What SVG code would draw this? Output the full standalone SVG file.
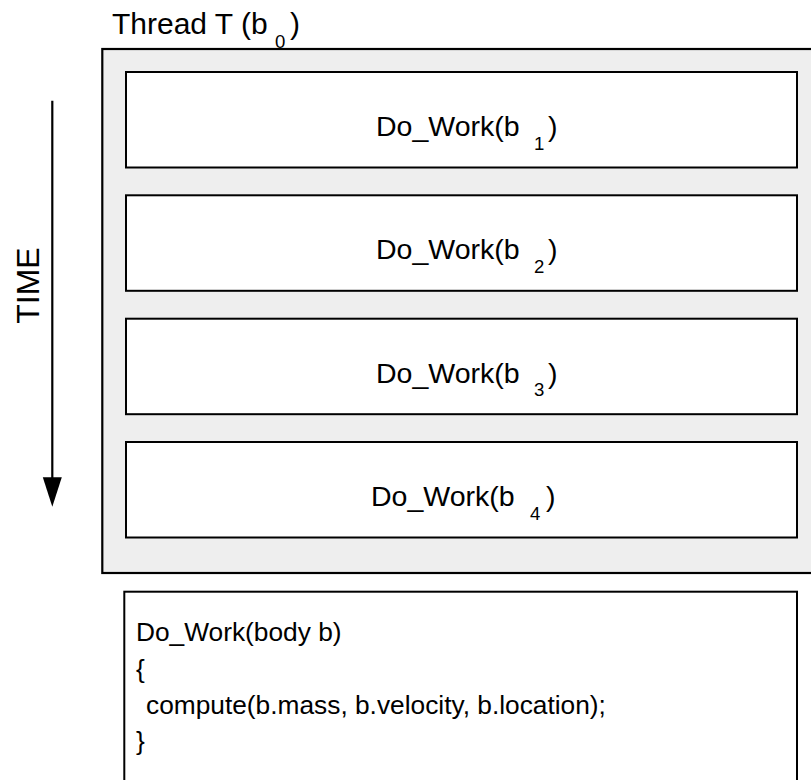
<svg xmlns="http://www.w3.org/2000/svg" width="811" height="780" viewBox="0 0 811 780">
<style>
text{font-family:"Liberation Sans",Arial,Helvetica,sans-serif;fill:#000}
.box{fill:#fff;stroke:#000;stroke-width:2}
.outer{fill:#eeeeee;stroke:#000;stroke-width:2.2}
.lbl{font-size:28.5px}
.ttl{font-size:30px}
.code{font-size:26.3px}
.sub{font-size:18.6px}
</style>
<g id="thread">
<rect class="outer" x="102.3" y="49" width="720" height="524"/>
<text class="ttl" x="112" y="34">Thread T (b<tspan class="sub" x="275" y="47.5">0</tspan><tspan x="290" y="34">)</tspan></text>
</g>
<g id="work1">
<rect class="box" x="126" y="72" width="671" height="95.5"/>
<text class="lbl" x="376" y="136">Do_Work(b<tspan class="sub" x="534" y="149.5">1</tspan><tspan x="548" y="136">)</tspan></text>
</g>
<g id="work2">
<rect class="box" x="126" y="195.3" width="671" height="95.5"/>
<text class="lbl" x="376" y="259.3">Do_Work(b<tspan class="sub" x="534" y="272.8">2</tspan><tspan x="548" y="259.3">)</tspan></text>
</g>
<g id="work3">
<rect class="box" x="126" y="318.7" width="671" height="95.5"/>
<text class="lbl" x="376" y="382.7">Do_Work(b<tspan class="sub" x="534" y="396.2">3</tspan><tspan x="548" y="382.7">)</tspan></text>
</g>
<g id="work4">
<rect class="box" x="126" y="442" width="671" height="95.5"/>
<text class="lbl" x="371" y="506">Do_Work(b<tspan class="sub" x="530" y="519.5">4</tspan><tspan x="546" y="506">)</tspan></text>
</g>
<g id="code">
<rect class="box" x="124.3" y="591.7" width="672.7" height="220"/>
<text class="code" x="136" y="641">Do_Work(body b)</text>
<text class="code" x="136" y="677.5">{</text>
<text class="code" x="146" y="714">compute(b.mass, b.velocity, b.location);</text>
<text class="code" x="136" y="750">}</text>
</g>
<g id="time">
<text transform="translate(38.5,285.5) rotate(-90)" text-anchor="middle" style="font-size:32px">TIME</text>
</g>
<g id="connectors">
<line x1="52.3" y1="100.7" x2="52.3" y2="478" stroke="#000" stroke-width="2.2"/>
<path d="M42.8,477.3 L61.8,477.3 L52.3,506.7 Z" fill="#000"/>
</g>
</svg>
